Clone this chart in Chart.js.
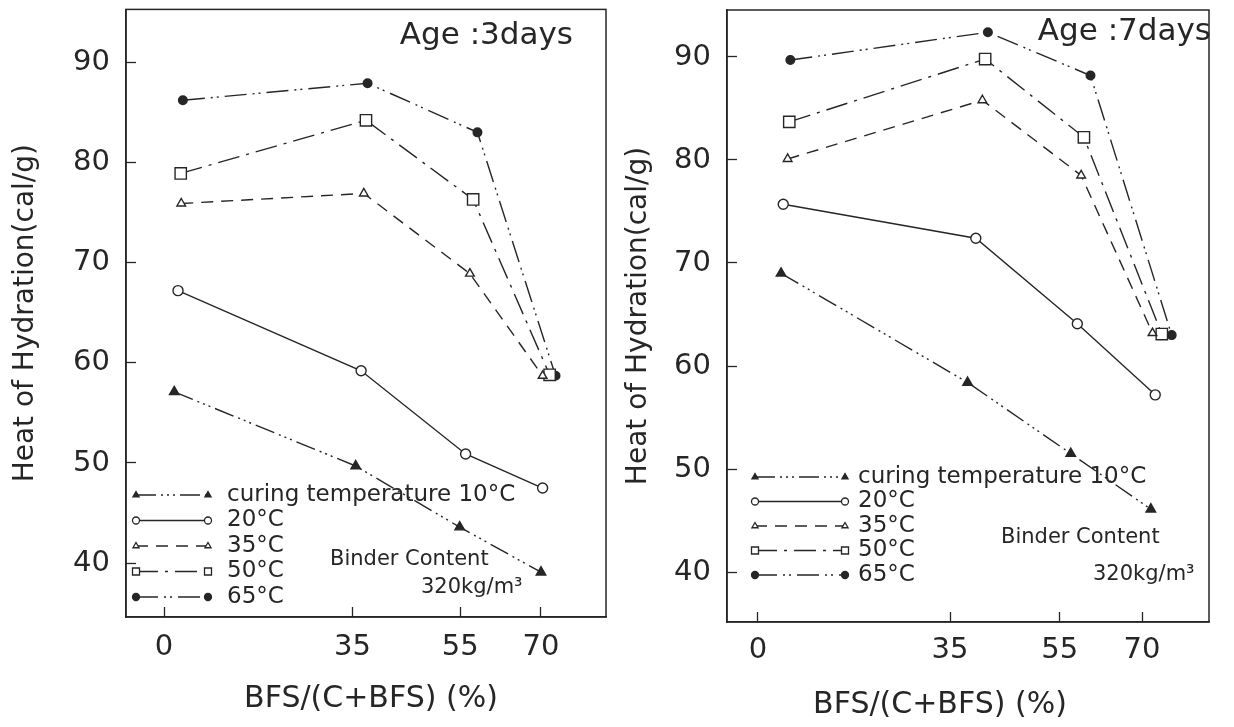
<!DOCTYPE html>
<html lang="en">
<head>
<meta charset="UTF-8" />
<title>Heat of Hydration vs BFS/(C+BFS)</title>
<script src="https://cdn.jsdelivr.net/npm/chart.js@4.4.1/dist/chart.umd.min.js"></script>
<style>
  html, body { margin: 0; padding: 0; background: #fff; }
  .wrap { position: relative; width: 1234px; height: 727px; overflow: hidden; }
  .panel { position: absolute; top: 0; width: 617px; height: 727px; }
  #p3 { left: 0; }
  #p7 { left: 617px; }
</style>
</head>
<body>
<div class="wrap">
  <div class="panel" id="p3"><canvas id="chart3" width="617" height="727"></canvas></div>
  <div class="panel" id="p7"><canvas id="chart7" width="617" height="727"></canvas></div>
</div>

<script>
// ---- data ----
const seriesLabels = ["curing temperature 10°C", "20°C", "35°C", "50°C", "65°C"];
const xTickValues = [0, 35, 55, 70];
const yTickValues = [40, 50, 60, 70, 80, 90];

// Age 3 days: x = where each point sits on the BFS axis, y = heat of hydration (cal/g)
const day3X_10 = [1.9, 35.6, 54.9, 70.0];
const day3Y_10 = [57.1, 49.7, 43.6, 39.1];
const day3X_20 = [2.6, 36.6, 56.0, 70.3];
const day3Y_20 = [67.2, 59.2, 50.9, 47.5];
const day3X_35 = [3.2, 37.1, 56.8, 70.3];
const day3Y_35 = [75.9, 76.9, 68.9, 58.7];
const day3X_50 = [3.1, 37.5, 57.4, 71.6];
const day3Y_50 = [78.9, 84.2, 76.3, 58.8];
const day3X_65 = [3.5, 37.8, 58.2, 72.7];
const day3Y_65 = [86.2, 87.9, 83.0, 58.7];

// Age 7 days
const day7X_10 = [4.2, 38.2, 57.0, 71.6];
const day7Y_10 = [69.0, 58.4, 51.5, 46.1];
const day7X_20 = [4.6, 39.7, 58.2, 72.4];
const day7Y_20 = [75.7, 72.4, 64.1, 57.2];
const day7X_35 = [5.4, 40.9, 58.9, 71.9];
const day7Y_35 = [80.1, 85.8, 78.5, 63.2];
const day7X_50 = [5.7, 41.4, 59.4, 73.6];
const day7Y_50 = [83.7, 89.8, 82.2, 63.1];
const day7X_65 = [5.9, 41.9, 60.6, 75.4];
const day7Y_65 = [89.7, 92.4, 88.2, 63.0];

// ---- look ----
const ink = "#262626";
const family = "'DejaVu Sans', 'Liberation Sans', sans-serif";

const seriesStyles = [
  { dash: [20, 5, 2, 4, 2, 4, 2, 5], shape: "triangle", filled: true, r: 5.5 },
  { dash: [], shape: "circle", filled: false, r: 5 },
  { dash: [12, 8], shape: "triangle", filled: false, r: 5 },
  { dash: [22, 7, 3, 7], shape: "rect", filled: false, r: 8 },
  { dash: [22, 6, 2, 4, 2, 6], shape: "circle", filled: true, r: 4.3 },
];

function toPoints(xs, ys) {
  return xs.map((x, i) => ({ x: x, y: ys[i] }));
}

function buildDatasets(xsList, ysList) {
  return seriesLabels.map((label, i) => {
    const s = seriesStyles[i];
    return {
      label: label,
      data: toPoints(xsList[i], ysList[i]),
      borderColor: ink,
      borderWidth: 1.4,
      borderDash: s.dash,
      pointStyle: s.shape,
      pointRadius: s.r,
      pointBorderWidth: 1.4,
      pointBorderColor: ink,
      pointBackgroundColor: s.filled ? ink : "#fff",
      tension: 0,
      fill: false,
    };
  });
}

function drawMark(ctx, shape, x, y, r, filled) {
  ctx.beginPath();
  if (shape === "circle") {
    ctx.arc(x, y, r, 0, Math.PI * 2);
  } else if (shape === "rect") {
    ctx.rect(x - r, y - r, r * 2, r * 2);
  } else {
    ctx.moveTo(x, y - r);
    ctx.lineTo(x + r * 0.87, y + r * 0.5);
    ctx.lineTo(x - r * 0.87, y + r * 0.5);
    ctx.closePath();
  }
  ctx.fillStyle = filled ? ink : "#fff";
  ctx.fill();
  ctx.stroke();
}

// frame, x title, age label, binder note and the line-sample legend
function decorPlugin(p) {
  return {
    id: "decor",
    afterDraw(chart) {
      const ctx = chart.ctx;
      const a = chart.chartArea;
      ctx.save();
      ctx.strokeStyle = ink;
      ctx.lineWidth = 1.5;
      ctx.strokeRect(a.left, a.top, a.right - a.left, a.bottom - a.top);

      ctx.fillStyle = ink;
      ctx.textBaseline = "middle";
      ctx.textAlign = "center";
      ctx.font = "30px " + family;
      ctx.fillText("BFS/(C+BFS) (%)", p.xTitleX, p.xTitleY);

      ctx.textBaseline = "alphabetic";
      ctx.font = "31px " + family;
      ctx.textAlign = "right";
      ctx.fillText(p.age, a.right + p.ageDx, a.top + p.ageDy);

      ctx.font = "21px " + family;
      ctx.textAlign = "left";
      ctx.fillText("Binder Content", a.left + p.binderDx, p.binderY);
      ctx.fillText("320kg/m³", a.left + p.contentDx, p.contentY);

      ctx.font = "23px " + family;
      ctx.textBaseline = "middle";
      ctx.lineWidth = 1.3;
      chart.data.datasets.forEach((ds, i) => {
        const s = seriesStyles[i];
        const y = p.legendY + i * p.legendStep;
        const x1 = a.left + p.legendDx;
        const x2 = x1 + p.legendLen;
        ctx.setLineDash(s.dash);
        ctx.beginPath();
        ctx.moveTo(x1, y);
        ctx.lineTo(x2, y);
        ctx.stroke();
        ctx.setLineDash([]);
        drawMark(ctx, s.shape, x1, y, 3.5, s.filled);
        drawMark(ctx, s.shape, x2, y, 3.5, s.filled);
        ctx.fillStyle = ink;
        ctx.fillText(ds.label, x2 + p.legendGap, y);
      });
      ctx.restore();
    },
  };
}

function makePanel(canvasId, datasets, p) {
  return new Chart(document.getElementById(canvasId), {
    type: "line",
    data: { datasets: datasets },
    plugins: [decorPlugin(p)],
    options: {
      responsive: false,
      animation: false,
      devicePixelRatio: 1,
      layout: { padding: { left: 0, top: p.top, right: p.right, bottom: 0 } },
      plugins: { legend: { display: false }, tooltip: { enabled: false } },
      scales: {
        x: {
          type: "linear",
          min: p.xMin,
          max: p.xMax,
          afterBuildTicks: (s) => { s.ticks = xTickValues.map((v) => ({ value: v })); },
          afterFit: (s) => {
            s.height = p.xAxisH;
            s.paddingLeft = 0;
            s.paddingRight = 0;
          },
          border: { display: true, color: ink, width: 1.5 },
          grid: { drawOnChartArea: false, drawTicks: true, tickLength: -10, tickColor: ink, tickWidth: 1.3 },
          ticks: { autoSkip: false, maxRotation: 0, padding: p.xTickPad, color: ink, font: { family: family, size: 29 } },
        },
        y: {
          type: "linear",
          min: p.yMin,
          max: p.yMax,
          afterBuildTicks: (s) => { s.ticks = yTickValues.map((v) => ({ value: v })); },
          afterFit: (s) => {
            s.width = p.yAxisW;
            s.paddingTop = 0;
            s.paddingBottom = 0;
          },
          border: { display: true, color: ink, width: 1.5 },
          grid: { drawOnChartArea: false, drawTicks: true, tickLength: -10, tickColor: ink, tickWidth: 1.3 },
          ticks: { padding: 26, color: ink, font: { family: family, size: 29 } },
          title: {
            display: true,
            text: "Heat of Hydration(cal/g)",
            color: ink,
            font: { family: family, size: 28 },
            padding: { top: p.yTitlePad, bottom: p.yTitlePad },
          },
        },
      },
    },
  });
}

makePanel(
  "chart3",
  buildDatasets(
    [day3X_10, day3X_20, day3X_35, day3X_50, day3X_65],
    [day3Y_10, day3Y_20, day3Y_35, day3Y_50, day3Y_65]
  ),
  {
    xMin: -7.06, xMax: 82.07, yMin: 34.63, yMax: 95.27,
    top: 7, right: 11, yAxisW: 126, xAxisH: 110,
    xTickPad: 23, yTitlePad: 9, xTitleX: 371, xTitleY: 699,
    age: "Age :3days", ageDx: -33, ageDy: 35,
    binderDx: 204, binderY: 565, contentDx: 295, contentY: 593,
    legendDx: 10, legendLen: 72, legendGap: 19, legendY: 495, legendStep: 25.5,
  }
);

makePanel(
  "chart7",
  buildDatasets(
    [day7X_10, day7X_20, day7X_35, day7X_50, day7X_65],
    [day7Y_10, day7Y_20, day7Y_35, day7Y_50, day7Y_65]
  ),
  {
    xMin: -5.65, xMax: 82.2, yMin: 35.15, yMax: 94.56,
    top: 10, right: 25, yAxisW: 110, xAxisH: 105,
    xTickPad: 21, yTitlePad: 5, xTitleX: 323, xTitleY: 705,
    age: "Age :7days", ageDx: 2, ageDy: 30,
    binderDx: 274, binderY: 543, contentDx: 366, contentY: 580,
    legendDx: 28, legendLen: 90, legendGap: 13, legendY: 477, legendStep: 24.5,
  }
);
</script>
</body>
</html>
